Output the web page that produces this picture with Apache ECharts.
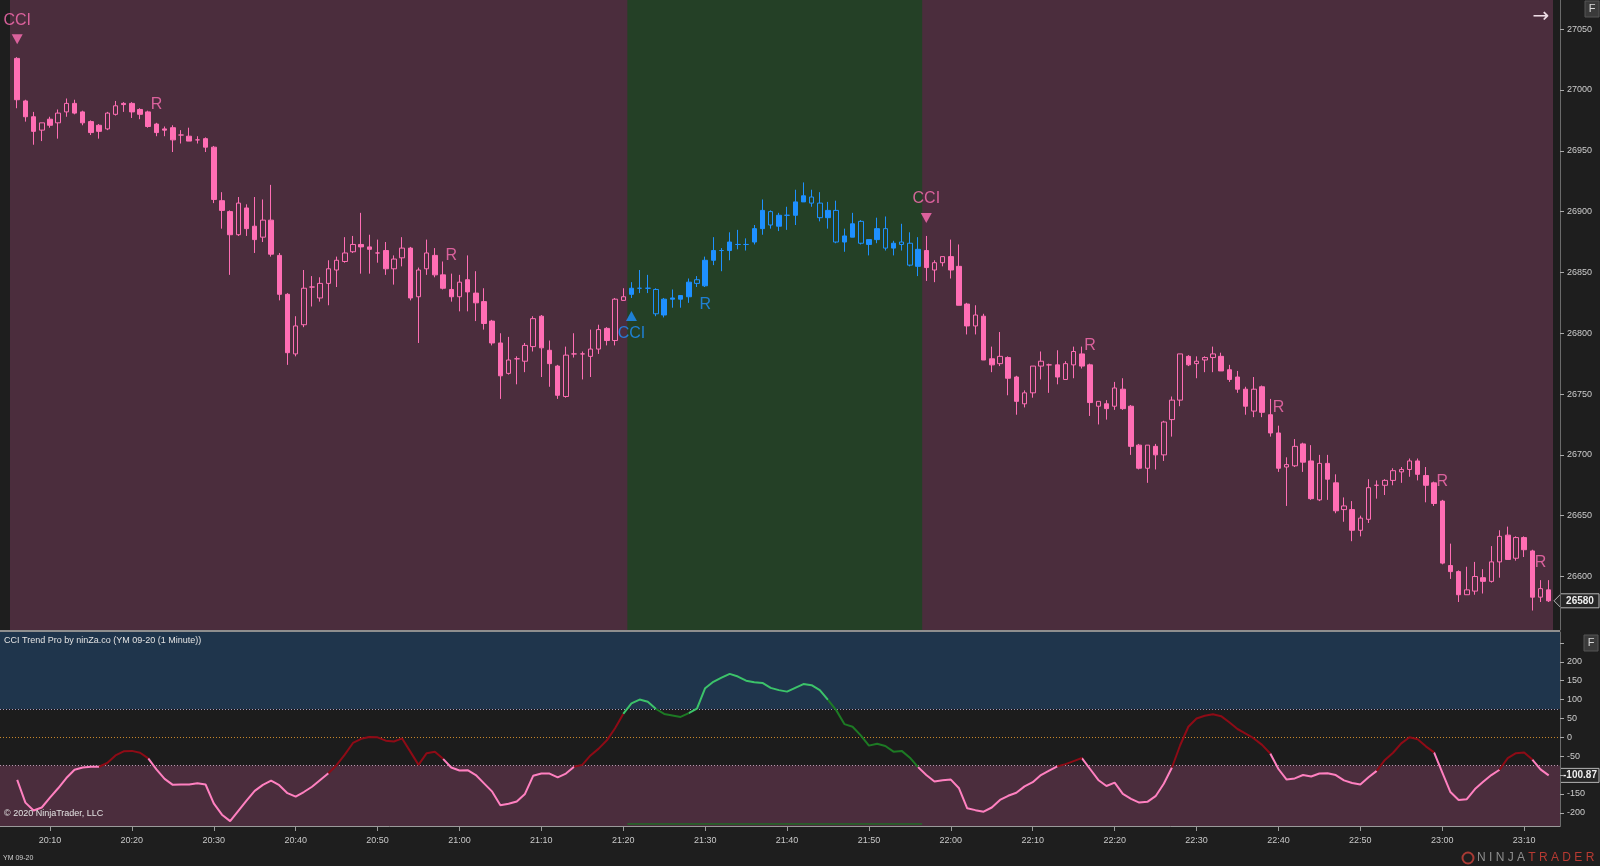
<!DOCTYPE html>
<html>
<head>
<meta charset="utf-8">
<script src="https://cdn.jsdelivr.net/npm/echarts@6/dist/echarts.min.js"></script>
<style>
html, body { margin: 0; padding: 0; background: #1e1e1e; }
#chart { width: 1600px; height: 866px; }
</style>
</head>
<body>
<div id="chart"></div>
<script>
// YM 09-20, 1 minute bars from 20:06 to 23:13
const opens = [
    27026, 26991, 26978, 26967, 26976, 26973, 26982, 26989, 26982, 26974,
    26971, 26968, 26980, 26989, 26989, 26984, 26982, 26972, 26968, 26969,
    26963, 26962, 26959, 26960, 26953, 26909, 26900, 26881, 26903, 26888,
    26879, 26893, 26864, 26832, 26783, 26807, 26838, 26829, 26841, 26852,
    26859, 26867, 26873, 26871, 26866, 26868, 26853, 26862, 26870, 26830,
    26853, 26864, 26848, 26836, 26830, 26844, 26833, 26826, 26810, 26792,
    26767, 26779, 26777, 26789, 26814, 26786, 26773, 26748, 26783, 26783,
    26781, 26787, 26804, 26794, 26827, 26832, 26837, 26837, 26836, 26815,
    26828, 26828, 26830, 26844, 26839, 26860, 26868, 26868, 26873, 26873,
    26875, 26886, 26900, 26888, 26897, 26897, 26908, 26912, 26907, 26895,
    26901, 26875, 26879, 26892, 26873, 26877, 26886, 26870, 26875, 26874,
    26855, 26868, 26852, 26858, 26863, 26855, 26824, 26806, 26814, 26779,
    26775, 26780, 26764, 26742, 26751, 26773, 26774, 26774, 26762, 26774,
    26783, 26774, 26740, 26742, 26740, 26754, 26740, 26708, 26689, 26707,
    26700, 26729, 26745, 26781, 26775, 26778, 26780, 26781, 26770, 26764,
    26754, 26736, 26756, 26733, 26718, 26690, 26691, 26709, 26695, 26663,
    26693, 26677, 26655, 26655, 26638, 26647, 26675, 26675, 26679, 26686,
    26688, 26695, 26683, 26677, 26662, 26609, 26604, 26585, 26588, 26599,
    26596, 26612, 26634, 26615, 26632, 26621, 26583, 26589
];
const highs = [
    27027, 26992, 26982, 26973, 26978, 26984, 26993, 26992, 26983, 26975,
    26972, 26982, 26991, 26990, 26990, 26985, 26983, 26973, 26970, 26971,
    26967, 26969, 26962, 26961, 26954, 26916, 26901, 26912, 26906, 26912,
    26910, 26922, 26866, 26833, 26814, 26852, 26847, 26846, 26860, 26863,
    26879, 26880, 26899, 26881, 26877, 26875, 26864, 26879, 26871, 26854,
    26877, 26870, 26859, 26849, 26848, 26864, 26851, 26837, 26811, 26800,
    26797, 26781, 26792, 26814, 26815, 26794, 26774, 26789, 26800, 26785,
    26803, 26807, 26805, 26829, 26837, 26842, 26852, 26848, 26837, 26829,
    26836, 26831, 26845, 26847, 26863, 26879, 26870, 26883, 26885, 26878,
    26889, 26910, 26901, 26899, 26904, 26918, 26924, 26918, 26916, 26908,
    26909, 26886, 26899, 26893, 26877, 26895, 26896, 26876, 26890, 26883,
    26879, 26880, 26860, 26863, 26877, 26873, 26825, 26823, 26816, 26789,
    26801, 26781, 26765, 26753, 26773, 26785, 26775, 26786, 26777, 26789,
    26789, 26775, 26744, 26745, 26760, 26763, 26741, 26709, 26708, 26709,
    26728, 26748, 26783, 26782, 26781, 26781, 26789, 26784, 26774, 26769,
    26756, 26764, 26757, 26746, 26724, 26698, 26713, 26710, 26708, 26700,
    26700, 26684, 26665, 26662, 26650, 26680, 26679, 26680, 26689, 26690,
    26697, 26697, 26690, 26678, 26663, 26627, 26605, 26608, 26612, 26606,
    26625, 26638, 26641, 26633, 26633, 26622, 26597, 26597
];
const lows = [
    26985, 26974, 26955, 26958, 26969, 26960, 26978, 26980, 26971, 26963,
    26960, 26967, 26979, 26982, 26977, 26976, 26969, 26962, 26962, 26949,
    26956, 26958, 26956, 26949, 26907, 26886, 26848, 26880, 26880, 26866,
    26875, 26863, 26827, 26774, 26781, 26805, 26822, 26826, 26823, 26838,
    26858, 26866, 26849, 26849, 26858, 26848, 26840, 26855, 26827, 26792,
    26848, 26846, 26836, 26826, 26818, 26818, 26810, 26803, 26790, 26746,
    26766, 26758, 26768, 26785, 26764, 26756, 26746, 26747, 26780, 26762,
    26764, 26783, 26790, 26790, 26827, 26829, 26833, 26833, 26814, 26813,
    26821, 26821, 26825, 26838, 26838, 26856, 26851, 26860, 26869, 26868,
    26873, 26881, 26886, 26884, 26885, 26889, 26908, 26904, 26892, 26886,
    26874, 26867, 26879, 26873, 26864, 26874, 26868, 26864, 26868, 26855,
    26847, 26843, 26842, 26855, 26845, 26823, 26799, 26799, 26778, 26768,
    26773, 26749, 26733, 26739, 26747, 26762, 26751, 26758, 26762, 26763,
    26771, 26732, 26725, 26729, 26737, 26737, 26700, 26688, 26677, 26688,
    26695, 26715, 26740, 26773, 26763, 26768, 26768, 26769, 26760, 26751,
    26733, 26731, 26731, 26715, 26686, 26658, 26690, 26686, 26663, 26662,
    26663, 26652, 26645, 26629, 26633, 26644, 26664, 26667, 26675, 26677,
    26682, 26679, 26661, 26658, 26610, 26598, 26579, 26585, 26585, 26586,
    26595, 26599, 26614, 26613, 26616, 26572, 26579, 26579
];
const closes = [
    26992, 26978, 26966, 26973, 26971, 26981, 26989, 26981, 26973, 26965,
    26966, 26981, 26987, 26988, 26982, 26980, 26970, 26965, 26967, 26959,
    26963, 26958, 26959, 26953, 26910, 26901, 26881, 26907, 26886, 26877,
    26893, 26865, 26832, 26784, 26806, 26837, 26838, 26841, 26853, 26860,
    26866, 26873, 26871, 26869, 26866, 26853, 26861, 26870, 26829, 26852,
    26866, 26848, 26837, 26830, 26842, 26834, 26825, 26808, 26792, 26765,
    26778, 26779, 26790, 26812, 26788, 26775, 26749, 26782, 26783, 26783,
    26787, 26803, 26794, 26828, 26830, 26837, 26837, 26837, 26816, 26828,
    26829, 26831, 26842, 26841, 26860, 26868, 26868, 26875, 26873, 26873,
    26886, 26901, 26889, 26897, 26897, 26908, 26913, 26907, 26895, 26901,
    26875, 26880, 26890, 26874, 26877, 26886, 26870, 26874, 26873, 26856,
    26869, 26854, 26858, 26863, 26852, 26823, 26806, 26815, 26778, 26774,
    26781, 26763, 26744, 26751, 26773, 26777, 26774, 26764, 26775, 26785,
    26773, 26743, 26744, 26738, 26755, 26738, 26707, 26689, 26708, 26700,
    26727, 26745, 26783, 26774, 26777, 26780, 26783, 26769, 26762, 26754,
    26740, 26754, 26735, 26718, 26689, 26692, 26707, 26694, 26664, 26693,
    26680, 26654, 26658, 26638, 26648, 26673, 26675, 26679, 26687, 26688,
    26695, 26684, 26675, 26660, 26611, 26604, 26585, 26589, 26600, 26596,
    26612, 26633, 26614, 26632, 26622, 26583, 26590, 26580
];
const cci = [
    -113, -173, -194, -186, -160, -135, -108, -86, -80, -78,
    -78, -68, -48, -37, -36, -41, -56, -85, -110, -126,
    -125, -125, -122, -125, -175, -205, -222, -195, -168, -142,
    -126, -115, -127, -148, -157, -145, -131, -113, -95, -74,
    -46, -15, -4, 1, 0, -9, -11, -3, -38, -73,
    -42, -38, -57, -80, -88, -87, -100, -122, -144, -180,
    -176, -170, -150, -102, -96, -96, -106, -96, -78, -73,
    -48, -30, -8, 24, 62, 90, 100, 94, 75, 62,
    58, 54, 64, 76, 130, 147, 158, 168, 161, 150,
    146, 144, 131, 125, 121, 131, 141, 138, 125, 99,
    72, 35, 28, 5, -22, -17, -23, -38, -36, -54,
    -79, -100, -117, -114, -112, -135, -188, -193, -197, -186,
    -166, -155, -147, -130, -119, -100, -88, -77, -71, -63,
    -55, -84, -113, -129, -120, -150, -163, -173, -171, -156,
    -123, -80, -21, 28, 50, 57, 61, 56, 40, 22,
    10, -3, -20, -43, -84, -112, -109, -100, -104, -96,
    -95, -100, -114, -121, -125, -106, -89, -60, -41, -16,
    0, -5, -24, -40, -93, -145, -166, -164, -137, -118,
    -100, -86, -55, -42, -40, -59, -85, -100.87
];

const upTrend = [75, 110];                 // first and last bar of the up trend
const cciSignals = [{bar: 0, dir: -1}, {bar: 75, dir: 1}, {bar: 111, dir: -1}];
const retestBars = [17, 53, 84, 131, 154, 174, 186];
const tickBars = [4, 14, 24, 34, 44, 54, 64, 74, 84, 94, 104, 114, 124, 134, 144, 154, 164, 174, 184];
const tickLabels = ['20:10', '20:20', '20:30', '20:40', '20:50', '21:00', '21:10', '21:20', '21:30', '21:40',
    '21:50', '22:00', '22:10', '22:20', '22:30', '22:40', '22:50', '23:00', '23:10'];
const priceTicks = [26600, 26650, 26700, 26750, 26800, 26850, 26900, 26950, 27000, 27050];
const cciTicks = [200, 150, 100, 50, 0, -50, -150, -200];
const cciTickMarks = [250, 200, 150, 100, 50, 0, -50, -100, -150, -200];
const cciBand = 75;

const PINK = '#ff6eb4';
const BLUE = '#1e90ff';
const MAROON = '#4b2d3d';
const FONT = 'Liberation Sans, Arial, sans-serif';

const isUp = i => i >= upTrend[0] && i <= upTrend[1];
const rows = opens.map((o, i) => [i, o, closes[i], lows[i], highs[i]]);
const pinkRows = rows.filter(r => !isUp(r[0]));
const blueRows = rows.filter(r => isUp(r[0]));

// cci line colour: 0 up strong, 1 up weak, 2 down strong, 3 down weak
const cciColors = ['#3cc36a', '#1d7a24', '#ff80c0', '#8e0b16'];
const cciState = cci.map((v, i) => isUp(i) ? (v >= cciBand ? 0 : 1) : (v <= -cciBand ? 2 : 3));
const cciSeries = cciColors.map((c, k) => ({
    type: 'line',
    xAxisIndex: 1,
    yAxisIndex: 1,
    showSymbol: false,
    silent: true,
    z: 5,
    lineStyle: {color: c, width: 2},
    data: cci.map((v, i) => (cciState[i] === k || cciState[i + 1] === k) ? [i, v] : [i, '-'])
}));

cciSeries[0].markArea = {
    silent: true,
    data: [
        [{yAxis: cciBand, itemStyle: {color: '#1f354c'}}, {yAxis: 279}],
        [{yAxis: -cciBand, itemStyle: {color: MAROON}}, {yAxis: -235}]
    ]
};
cciSeries[0].markLine = {
    silent: true,
    symbol: 'none',
    label: {show: false},
    data: [
        {yAxis: cciBand, lineStyle: {color: '#a898bc', type: [1, 2], width: 1}},
        {yAxis: 0, lineStyle: {color: '#c8862a', type: [1, 2], width: 1}},
        {yAxis: -cciBand, lineStyle: {color: '#b898b0', type: [1, 2], width: 1}}
    ]
};

const downTri = 'path://M0,0 L10,0 L5,9 Z';
const plainNum = v => String(v);

const option = {
    animation: false,
    backgroundColor: '#1e1e1e',
    grid: [
        {left: 10, top: 0, width: 1543, height: 630, show: true, backgroundColor: MAROON, borderWidth: 0},
        {left: 0, top: 632, width: 1560, height: 194, show: true, backgroundColor: '#1c1c1c', borderWidth: 0}
    ],
    xAxis: [
        {gridIndex: 0, type: 'value', min: -0.879, max: 187.52, show: false,
            axisLine: {onZero: false}, splitLine: {show: false}},
        {
            gridIndex: 1, type: 'value', min: -2.10, max: 188.38,
            axisLine: {show: true, onZero: false, lineStyle: {color: '#9a9a9a'}},
            axisTick: {show: true, customValues: tickBars, length: 5, lineStyle: {color: '#9a9a9a'}},
            axisLabel: {
                customValues: tickBars, color: '#c8c8c8', fontSize: 9, fontFamily: FONT, margin: 10,
                formatter: v => tickLabels[tickBars.indexOf(v)]
            },
            splitLine: {show: false}
        }
    ],
    yAxis: [
        {
            gridIndex: 0, type: 'value', position: 'right', offset: 7, min: 26556, max: 27074,
            axisLine: {show: true, onZero: false, lineStyle: {color: '#6a6a6a'}},
            axisTick: {show: true, customValues: priceTicks, length: 4, lineStyle: {color: '#aaaaaa'}},
            axisLabel: {customValues: priceTicks, color: '#cccccc', fontSize: 9, fontFamily: FONT, margin: 7, formatter: plainNum},
            splitLine: {show: false}
        },
        {
            gridIndex: 1, type: 'value', position: 'right', min: -235, max: 279,
            axisLine: {show: true, onZero: false, lineStyle: {color: '#6a6a6a'}},
            axisTick: {show: true, customValues: cciTickMarks, length: 4, lineStyle: {color: '#aaaaaa'}},
            axisLabel: {customValues: cciTicks, color: '#cccccc', fontSize: 9, fontFamily: FONT, margin: 7, formatter: plainNum},
            splitLine: {show: false}
        }
    ],
    series: [
        {
            type: 'candlestick',
            name: 'down trend',
            xAxisIndex: 0, yAxisIndex: 0,
            encode: {x: 0, y: [1, 2, 3, 4]},
            barWidth: 5,
            z: 3,
            silent: true,
            itemStyle: {color: 'transparent', color0: PINK, borderColor: PINK, borderColor0: PINK, borderWidth: 1},
            data: pinkRows,
            markArea: {
                silent: true,
                data: [[{xAxis: upTrend[0] - 0.5, itemStyle: {color: '#244026'}}, {xAxis: upTrend[1] + 0.5}]]
            }
        },
        {
            type: 'candlestick',
            name: 'up trend',
            xAxisIndex: 0, yAxisIndex: 0,
            encode: {x: 0, y: [1, 2, 3, 4]},
            barWidth: 5,
            z: 3,
            silent: true,
            itemStyle: {color: BLUE, color0: 'transparent', borderColor: BLUE, borderColor0: BLUE, borderWidth: 1},
            data: blueRows
        },
        {
            type: 'scatter',
            xAxisIndex: 0, yAxisIndex: 0,
            silent: true,
            z: 4,
            symbol: downTri,
            symbolSize: [11, 10],
            symbolOffset: [0, -18],
            itemStyle: {color: PINK},
            label: {show: true, formatter: 'CCI', position: 'inside', offset: [0, -19], color: PINK, fontSize: 16, fontFamily: FONT},
            data: cciSignals.filter(s => s.dir < 0).map(s => [s.bar, highs[s.bar]])
        },
        {
            type: 'scatter',
            xAxisIndex: 0, yAxisIndex: 0,
            silent: true,
            z: 4,
            symbol: 'triangle',
            symbolSize: [11, 10],
            symbolOffset: [0, 18],
            itemStyle: {color: BLUE},
            label: {show: true, formatter: 'CCI', position: 'inside', offset: [0, 18], color: BLUE, fontSize: 16, fontFamily: FONT},
            data: cciSignals.filter(s => s.dir > 0).map(s => [s.bar, lows[s.bar]])
        },
        {
            type: 'scatter',
            xAxisIndex: 0, yAxisIndex: 0,
            silent: true,
            z: 4,
            symbolSize: 1,
            itemStyle: {color: 'transparent'},
            label: {show: true, formatter: 'R', position: 'inside', offset: [0, -18], color: PINK, fontSize: 16, fontFamily: FONT},
            data: retestBars.filter(b => !isUp(b)).map(b => [b, highs[b]])
        },
        {
            type: 'scatter',
            xAxisIndex: 0, yAxisIndex: 0,
            silent: true,
            z: 4,
            symbolSize: 1,
            itemStyle: {color: 'transparent'},
            label: {show: true, formatter: 'R', position: 'inside', offset: [0, 18], color: BLUE, fontSize: 16, fontFamily: FONT},
            data: retestBars.filter(b => isUp(b)).map(b => [b, lows[b]])
        }
    ].concat(cciSeries)
};

const chart = echarts.init(document.getElementById('chart'));
chart.setOption(option);

// overlays: last value boxes, texts, buttons
const lastClose = closes[closes.length - 1];
const lastCci = cci[cci.length - 1];
const yClose = chart.convertToPixel({yAxisIndex: 0}, lastClose);
const yCci = chart.convertToPixel({yAxisIndex: 1}, lastCci);
const xTrendA = chart.convertToPixel({xAxisIndex: 1}, upTrend[0] - 0.5);
const xTrendB = chart.convertToPixel({xAxisIndex: 1}, upTrend[1] + 0.5);

function valueBox(id, y, text) {
    return {
        type: 'group', id: id, z: 50,
        children: [
            {
                type: 'polygon',
                shape: {points: [[1554, y], [1561, y - 7], [1599, y - 7], [1599, y + 7], [1561, y + 7]]},
                style: {fill: '#262626', stroke: '#b4b4b4', lineWidth: 1}
            },
            {
                type: 'text', x: 1580, y: y,
                style: {text: text, fill: '#eeeeee', font: 'bold 10px ' + FONT, align: 'center', verticalAlign: 'middle'}
            }
        ]
    };
}

function fButton(id, x, y) {
    return {
        type: 'group', id: id, z: 50,
        children: [
            {type: 'rect', shape: {x: x, y: y, width: 14, height: 16}, style: {fill: '#3a3a3a', stroke: '#555555'}},
            {type: 'text', x: x + 7, y: y + 8, style: {text: 'F', fill: '#d8d8d8', font: '11px ' + FONT, align: 'center', verticalAlign: 'middle'}}
        ]
    };
}

chart.setOption({
    graphic: [
        {type: 'rect', id: 'sep', z: 40, shape: {x: 0, y: 630, width: 1560, height: 2}, style: {fill: '#8e8e8e'}},
        {type: 'rect', id: 'trendStrip', z: 40, shape: {x: xTrendA, y: 823, width: xTrendB - xTrendA, height: 2}, style: {fill: '#2b5a2b'}},
        {type: 'text', id: 'title', z: 50, x: 4, y: 641,
            style: {text: 'CCI Trend Pro by ninZa.co (YM 09-20 (1 Minute))', fill: '#e2e2e2', font: '9px ' + FONT, verticalAlign: 'middle'}},
        {type: 'text', id: 'copy', z: 50, x: 4, y: 814,
            style: {text: '\u00a9 2020 NinjaTrader, LLC', fill: '#e2e2e2', font: '9px ' + FONT, verticalAlign: 'middle'}},
        {type: 'text', id: 'instr', z: 50, x: 3, y: 858,
            style: {text: 'YM 09-20', fill: '#cfcfcf', font: '7px ' + FONT, verticalAlign: 'middle'}},
        {type: 'text', id: 'arrow', z: 50, x: 1541, y: 17,
            style: {text: '\u2192', fill: '#ecdce4', font: '20px DejaVu Sans, sans-serif', align: 'center', verticalAlign: 'middle'}},
        fButton('f1', 1585, 1),
        fButton('f2', 1584, 635),
        valueBox('closeBox', yClose, String(lastClose)),
        valueBox('cciBox', yCci, lastCci.toFixed(2)),
        {type: 'circle', id: 'logoRing', z: 50, shape: {cx: 1468, cy: 858, r: 5.5},
            style: {fill: 'none', stroke: '#a83a34', lineWidth: 2}},
        {type: 'text', id: 'logo', z: 50, x: 1477, y: 858,
            style: {
                text: '{a|N I N J A }{b|T R A D E R}',
                verticalAlign: 'middle',
                rich: {
                    a: {fill: '#8e8e8e', font: '12px ' + FONT},
                    b: {fill: '#b73a32', font: '12px ' + FONT}
                }
            }}
    ]
});

window.addEventListener('resize', function () {
    chart.resize();
});
</script>
</body>
</html>
